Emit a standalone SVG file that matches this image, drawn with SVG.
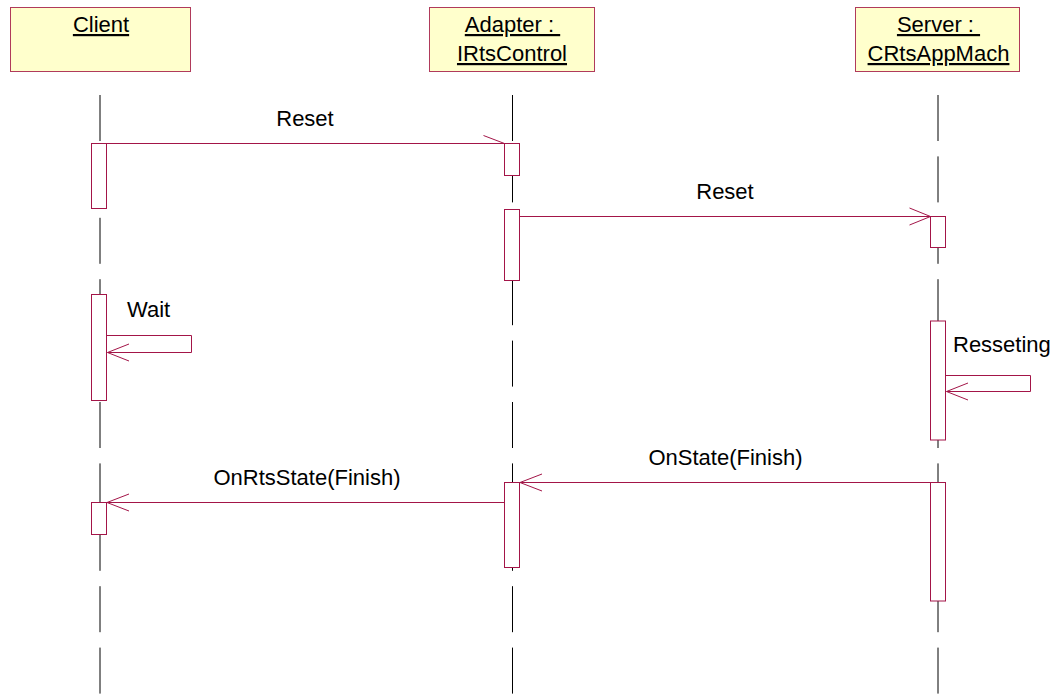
<svg xmlns="http://www.w3.org/2000/svg" width="1056" height="696" viewBox="0 0 1056 696">
  <style>
    .head { fill: #FFFFCC; stroke: #B03A5B; stroke-width: 1; }
    .life { stroke: #000000; stroke-width: 1; stroke-dasharray: 46 15.4; fill: none; }
    .act { fill: #FFFFFF; stroke: #A31548; stroke-width: 1; }
    .msg { stroke: #A31548; stroke-width: 1; fill: none; }
    .title { font-family: "Liberation Sans", Arial, sans-serif; font-size: 22px; fill: #000000; text-anchor: middle; text-decoration: underline; }
    .lbl { font-family: "Liberation Sans", Arial, sans-serif; font-size: 22px; fill: #000000; }
    .mid { text-anchor: middle; }
  </style>
  <rect width="1056" height="696" fill="#FFFFFF"/>

  <!-- Client lifeline -->
  <g id="client">
    <line class="life" x1="100" y1="95" x2="100" y2="696"/>
    <rect class="head" x="10.5" y="7.5" width="180" height="64"/>
    <text class="title" x="101" y="32">Client</text>
    <rect class="act" x="91.5" y="143.5" width="15" height="65"/>
    <rect class="act" x="91.5" y="294.5" width="15" height="106"/>
    <rect class="act" x="91.5" y="502.5" width="15" height="32"/>
  </g>

  <!-- Adapter lifeline -->
  <g id="adapter">
    <line class="life" x1="512.5" y1="95" x2="512.5" y2="696"/>
    <rect class="head" x="429.5" y="7.5" width="165" height="64"/>
    <text class="title" x="512.5" y="32" xml:space="preserve">Adapter : </text>
    <text class="title" x="512" y="61">IRtsControl</text>
    <rect class="act" x="504.5" y="143.5" width="15" height="32"/>
    <rect class="act" x="504.5" y="209.5" width="15" height="71"/>
    <rect class="act" x="504.5" y="482.5" width="15" height="85"/>
  </g>

  <!-- Server lifeline -->
  <g id="server">
    <line class="life" x1="938" y1="95" x2="938" y2="696"/>
    <rect class="head" x="855.5" y="7.5" width="164" height="64"/>
    <text class="title" x="938.5" y="32" xml:space="preserve">Server : </text>
    <text class="title" x="938.5" y="61">CRtsAppMach</text>
    <rect class="act" x="930.5" y="216.5" width="15" height="31"/>
    <rect class="act" x="930.5" y="321" width="15" height="119"/>
    <rect class="act" x="930.5" y="482.5" width="15" height="118.5"/>
  </g>

  <!-- Messages -->
  <g id="connectors">
    <!-- Reset (asynchronous, half arrowhead) -->
    <line class="msg" x1="106.5" y1="143.5" x2="504.5" y2="143.5"/>
    <polyline class="msg" points="483.5,135.5 504.5,143.5"/>
    <text class="lbl mid" x="305" y="126">Reset</text>

    <!-- Reset to server -->
    <line class="msg" x1="519.5" y1="216.5" x2="930.5" y2="216.5"/>
    <polyline class="msg" points="909.5,208 930.5,216.5 909.5,225"/>
    <text class="lbl mid" x="725" y="199">Reset</text>

    <!-- Wait (self call) -->
    <path class="msg" d="M106.5 335.5 H191.5 V352.5 H107.5"/>
    <polyline class="msg" points="129,344 107.5,352.5 129,361"/>
    <text class="lbl" x="127" y="317">Wait</text>

    <!-- Resseting (self call) -->
    <path class="msg" d="M945.5 375.5 H1030.5 V391.5 H946.5"/>
    <polyline class="msg" points="968,383 946.5,391.5 968,400"/>
    <text class="lbl" x="953" y="352">Resseting</text>

    <!-- OnState(Finish) -->
    <line class="msg" x1="930.5" y1="482.5" x2="520" y2="482.5"/>
    <polyline class="msg" points="542,474 520,482.5 542,491"/>
    <text class="lbl mid" x="725.5" y="465">OnState(Finish)</text>

    <!-- OnRtsState(Finish) -->
    <line class="msg" x1="504.5" y1="502.5" x2="107" y2="502.5"/>
    <polyline class="msg" points="129,494 107,502.5 129,511"/>
    <text class="lbl mid" x="307" y="485">OnRtsState(Finish)</text>
  </g>
</svg>
